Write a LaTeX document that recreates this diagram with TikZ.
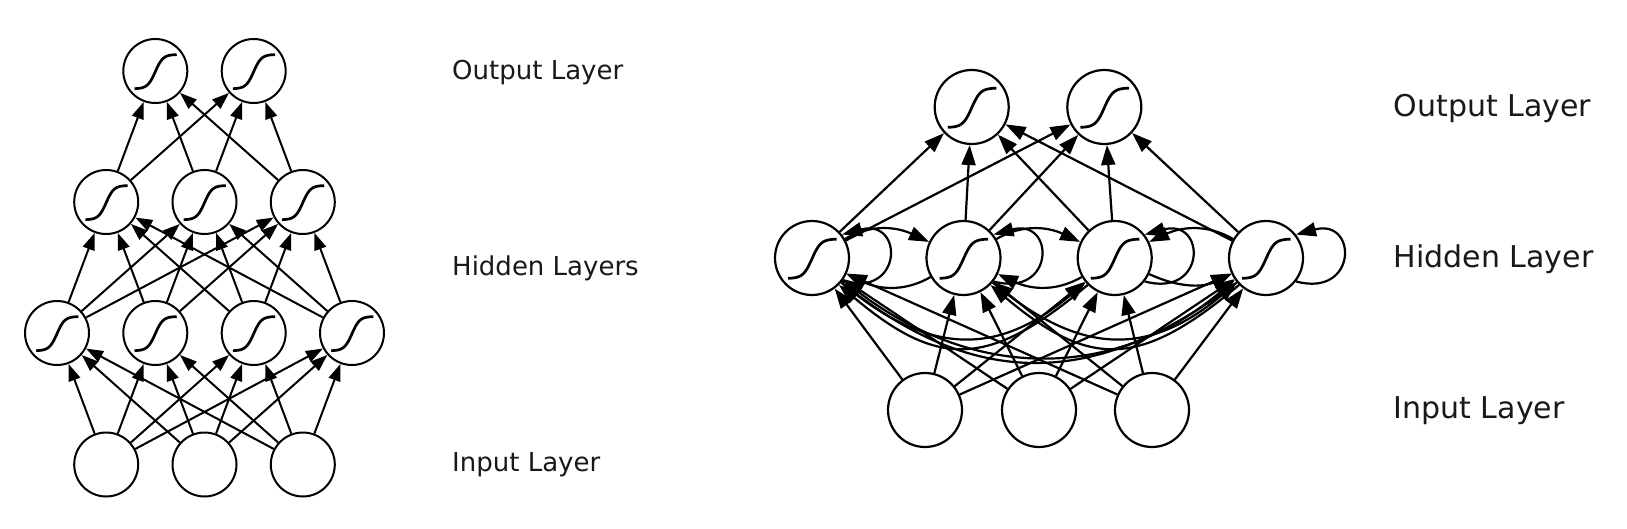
\documentclass[tikz,border=0pt]{standalone}
\usepackage{fontspec}
\setmainfont{DejaVu Sans}
\usetikzlibrary{arrows.meta}
\tikzset{
  lnode/.style={circle, draw, line width=2pt, minimum size=64pt, inner sep=0pt},
  rnode/.style={circle, draw, line width=2.2pt, minimum size=74pt, inner sep=0pt},
  larr/.style={line width=2pt, -{Triangle[length=17pt,width=12pt]}},
  rarr/.style={line width=2.2pt, -{Triangle[length=20pt,width=14pt]}},
  lab/.style={anchor=base west, inner sep=0pt, text=black!90, font=\fontsize{26}{30}\selectfont},
  rlab/.style={anchor=base west, inner sep=0pt, text=black!90, font=\fontsize{30}{34}\selectfont},
  sigline/.style={line width=2.7pt},
}
\newcommand\sigmoidmark[2]{\draw[sigline,shift={(#1)},scale=#2] plot[domain=-0.63:0.65,samples=40] (\x,{-0.02+0.52*tanh(4.3*\x)});}
\begin{document}
\begin{tikzpicture}[x=1pt,y=1pt]
\useasboundingbox (0,0) rectangle (1627,528);
\fill[white] (0,0) rectangle (1627,528);

% ---------- left: feed-forward network ----------
\foreach \n/\px/\py in {o1/155.3/457, o2/253.7/457,
  g1/106.2/326, g2/204.5/326, g3/302.8/326,
  f1/57/195, f2/155.3/195, f3/253.7/195, f4/352/195,
  i1/106.2/63.5, i2/204.5/63.5, i3/302.8/63.5}
  \node[lnode] (\n) at (\px,\py) {};

\foreach \a in {g1,g2,g3} \foreach \b in {o1,o2} \draw[larr] (\a) -- (\b);
\foreach \a in {f1,f2,f3,f4} \foreach \b in {g1,g2,g3} \draw[larr] (\a) -- (\b);
\foreach \a in {i1,i2,i3} \foreach \b in {f1,f2,f3,f4} \draw[larr] (\a) -- (\b);

\foreach \n in {o1,o2,g1,g2,g3,f1,f2,f3,f4} {\sigmoidmark{\n}{33}}

\node[lab] (tl1) at (452,448) {Output Layer};
\node[lab] (tl2) at (452,252.3) {Hidden Layers};
\node[lab] (tl3) at (452,56.3) {Input Layer};

% ---------- right: recurrent network ----------
\foreach \n/\px/\py in {p1/971.7/421, p2/1104.3/421,
  h1/812/270, h2/963.5/270, h3/1114.7/270, h4/1266/270,
  q1/925/118, q2/1039/118, q3/1152/118}
  \node[rnode] (\n) at (\px,\py) {};

\foreach \a in {h1,h2,h3,h4} \foreach \b in {p1,p2} \draw[rarr] (\a) -- (\b);
\foreach \a in {q1,q2,q3} \foreach \b in {h1,h2,h3,h4} \draw[rarr] (\a) -- (\b);

% self loops
\foreach \n in {h1,h2,h3,h4}
  \draw[rarr] (\n.-38) .. controls +(-15:64) and +(15:64) .. (\n.38);

% neighbouring hidden units
\draw[rarr] (h1) to[out=30,in=155] (h2);
\draw[rarr] (h2) to[out=30,in=155] (h3);
\draw[rarr] (h4) to[out=150,in=25] (h3);
\draw[rarr] (h2) to[out=-150,in=-25] (h1);
\draw[rarr] (h3) to[out=-150,in=-25] (h2);
\draw[rarr] (h3) to[out=-25,in=-155] (h4);

% distant hidden units
\draw[rarr] (h1.-40) .. controls +(-40:115) and +(-140:115) .. (h3.-140);
\draw[rarr] (h3.-135) .. controls +(-140:130) and +(-40:130) .. (h1.-45);
\draw[rarr] (h2.-40) .. controls +(-40:115) and +(-140:115) .. (h4.-140);
\draw[rarr] (h4.-135) .. controls +(-140:130) and +(-40:130) .. (h2.-45);
\draw[rarr] (h1.-35) .. controls +(-40:160) and +(-140:160) .. (h4.-145);
\draw[rarr] (h4.-140) .. controls +(-143:175) and +(-37:175) .. (h1.-40);

\foreach \n in {p1,p2,h1,h2,h3,h4} {\sigmoidmark{\n}{38}}

\node[rlab] (tr1) at (1393.5,411.3) {Output Layer};
\node[rlab] (tr2) at (1393.5,260) {Hidden Layer};
\node[rlab] (tr3) at (1393.5,110) {Input Layer};
\end{tikzpicture}
\end{document}
